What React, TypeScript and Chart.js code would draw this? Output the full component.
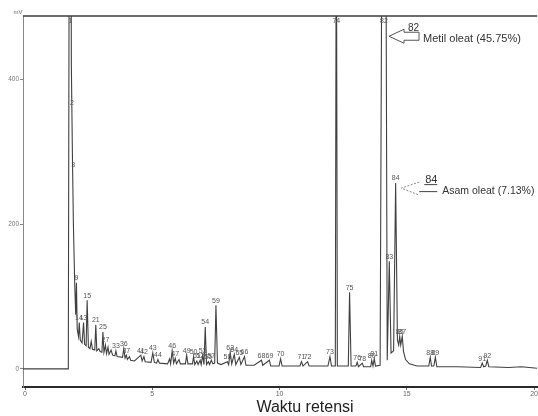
import { useEffect, useRef } from 'react';
import { Chart, registerables } from 'chart.js';

Chart.register(...registerables);

// Retention time (min) and detector signal (mV)
const times = [
  -0.08, 1.70, 1.74, 1.80, 1.82, 1.86, 1.90, 1.95, 1.99,
  2.02, 2.05, 2.10, 2.13, 2.17, 2.24, 2.30, 2.34, 2.40, 2.44,
  2.49, 2.55, 2.60, 2.65, 2.74, 2.78, 2.82, 2.90, 2.95, 3.02,
  3.06, 3.10, 3.16, 3.20, 3.26, 3.30, 3.38, 3.44, 3.53, 3.57,
  3.62, 3.83, 3.88, 3.93, 3.98, 4.02, 4.10, 4.15, 4.30, 4.55,
  4.60, 4.67, 4.72, 4.95, 5.02, 5.08, 5.17, 5.22, 5.28, 5.60,
  5.68, 5.72, 5.78, 5.84, 5.90, 5.95, 6.05, 6.10, 6.30, 6.35,
  6.40, 6.58, 6.62, 6.67, 6.75, 6.80, 6.88, 6.92, 6.98, 7.03,
  7.08, 7.13, 7.20, 7.25, 7.32, 7.38, 7.45, 7.50, 7.56, 7.70,
  7.95, 8.00, 8.06, 8.12, 8.22, 8.28, 8.42, 8.48, 8.62, 8.68,
  9.00, 9.29, 9.34, 9.60, 9.65, 9.98, 10.04, 10.10, 10.80, 10.86,
  10.92, 11.10, 11.16, 11.90, 11.98, 12.04, 12.19, 12.23, 12.27, 12.70,
  12.75, 12.81, 13.00, 13.05, 13.10, 13.25, 13.30, 13.58, 13.62, 13.67,
  13.72, 13.77, 13.95, 14.03, 14.17, 14.23, 14.31, 14.38, 14.48, 14.56,
  14.63, 14.68, 14.72, 14.76, 14.82, 14.87, 14.95, 15.10, 15.40, 15.86,
  15.92, 15.97, 16.06, 16.12, 16.18, 17.00, 17.90, 17.96, 18.02, 18.10,
  18.16, 18.22, 19.00, 19.50, 20.12,
];
const signal = [
  0, 0, 700, 700, 420, 300, 200, 120, 75,
  119, 55, 45, 64, 40, 36, 64, 34, 32, 95,
  30, 28, 38, 27, 26, 61, 25, 28, 24, 23,
  51, 23, 33, 21, 30, 20, 26, 19, 18, 25,
  17, 16, 28, 15, 19, 13, 17, 12, 11, 19,
  11, 17, 10, 9, 22, 9, 8, 13, 8, 7,
  14, 7, 25, 8, 15, 7, 13, 7, 7, 19,
  7, 7, 17, 6, 11, 6, 12, 6, 19, 6,
  58, 6, 10, 6, 12, 7, 8, 88, 8, 6,
  10, 6, 23, 7, 20, 6, 16, 6, 17, 5,
  5, 12, 5, 12, 4, 4, 14, 4, 4, 10,
  4, 10, 4, 4, 17, 4, 4, 700, 4, 4,
  106, 4, 4, 9, 3, 8, 3, 3, 12, 4,
  14, 4, 5, 700, 700, 12, 149, 22, 25, 257,
  40, 33, 45, 33, 45, 24, 13, 7, 4, 4,
  16, 4, 4, 16, 3, 3, 2, 8, 3, 4,
  12, 3, 2, 3, 1,
];

// Peak numbers printed on the chromatogram
const peakLabels = [
  '1', '2', '3', '9', '14', '13', '15', '21', '25', '27',
  '33', '36', '37', '41', '42', '43', '44', '46', '47', '49',
  '50', '51', '52', '53', '54', '55', '57', '59', '58', '63',
  '64', '65', '66', '68', '69', '70', '71', '72', '73', '74',
  '75', '76', '78', '80', '81', '82', '83', '84', '85', '87',
  '88', '89', '91', '92',
];
const peakTimes = [
  1.78, 1.84, 1.89, 2.02, 2.12, 2.30, 2.44, 2.78, 3.06, 3.16,
  3.57, 3.88, 3.98, 4.55, 4.67, 5.02, 5.22, 5.78, 5.90, 6.35,
  6.62, 6.75, 6.88, 6.98, 7.08, 7.20, 7.32, 7.50, 7.95, 8.06,
  8.22, 8.42, 8.62, 9.29, 9.60, 10.04, 10.86, 11.10, 11.98, 12.23,
  12.75, 13.05, 13.25, 13.62, 13.72, 14.10, 14.31, 14.56, 14.72, 14.82,
  15.92, 16.12, 17.96, 18.16,
];
const peakLabelValues = [
  480, 361, 275, 119, 64, 64, 95, 61, 51, 33,
  25, 28, 19, 19, 17, 22, 13, 25, 15, 19,
  17, 11, 12, 19, 58, 10, 12, 88, 10, 23,
  20, 16, 17, 12, 12, 14, 10, 10, 17, 480,
  106, 9, 8, 12, 14, 480, 149, 257, 45, 45,
  16, 16, 8, 12,
];

// Identified compounds
const noteIds = ['82', '84'];
const noteTexts = ['Metil oleat (45.75%)', 'Asam oleat (7.13%)'];
const noteTimes = [14.3, 14.78];
const noteValues = [460, 250];

const xTicks = [0, 5, 10, 15, 20];
const yTicks = [0, 200, 400];
const yUnit = 'mV';
const xTitle = 'Waktu retensi';
const xTitleAt = 11;

const overlay = {
  id: 'overlay',
  afterDatasetsDraw(chart: any) {
    const { ctx, chartArea: a, scales } = chart;
    const x = scales.x;
    const y = scales.y;
    ctx.save();
    // top frame line
    ctx.strokeStyle = '#3c3c3c';
    ctx.lineWidth = 1.5;
    ctx.beginPath();
    ctx.moveTo(a.left, a.top);
    ctx.lineTo(a.right, a.top);
    ctx.stroke();

    // unit
    ctx.fillStyle = '#666';
    ctx.font = '6px "Liberation Sans"';
    ctx.textAlign = 'center';
    ctx.textBaseline = 'bottom';
    ctx.fillText(yUnit, a.left - 5, a.top - 1);

    // peak labels
    ctx.font = '7px "Liberation Sans"';
    ctx.fillStyle = '#555';
    peakLabels.forEach((lab, i) => {
      const px = x.getPixelForValue(peakTimes[i]);
      const v = peakLabelValues[i];
      if (v >= y.max - 15) {
        ctx.textBaseline = 'top';
        ctx.fillText(lab, px, a.top + 2);
      } else {
        ctx.textBaseline = 'bottom';
        ctx.fillText(lab, px, y.getPixelForValue(v) - 1);
      }
    });

    // annotation 82: hollow arrow
    {
      const tx = x.getPixelForValue(noteTimes[0]);
      const ty = y.getPixelForValue(noteValues[0]);
      ctx.strokeStyle = '#555';
      ctx.lineWidth = 1;
      ctx.beginPath();
      ctx.moveTo(tx, ty);
      ctx.lineTo(tx + 15, ty - 7);
      ctx.lineTo(tx + 15, ty - 4);
      ctx.lineTo(tx + 30, ty - 4);
      ctx.lineTo(tx + 30, ty + 4);
      ctx.lineTo(tx + 15, ty + 4);
      ctx.lineTo(tx + 15, ty + 7);
      ctx.closePath();
      ctx.stroke();
      ctx.fillStyle = '#333';
      ctx.font = '10px "Liberation Sans"';
      ctx.textAlign = 'left';
      ctx.textBaseline = 'alphabetic';
      ctx.fillText(noteIds[0], tx + 19, ty - 5);
      ctx.font = '11px "Liberation Sans"';
      ctx.textBaseline = 'middle';
      ctx.fillText(noteTexts[0], tx + 34, ty + 3);
    }

    // annotation 84: dashed chevron
    {
      const tx = x.getPixelForValue(noteTimes[1]);
      const ty = y.getPixelForValue(noteValues[1]);
      ctx.strokeStyle = '#666';
      ctx.lineWidth = 0.8;
      ctx.setLineDash([2, 1.5]);
      ctx.beginPath();
      ctx.moveTo(tx + 18, ty - 6);
      ctx.lineTo(tx, ty);
      ctx.lineTo(tx + 18, ty + 7);
      ctx.stroke();
      ctx.setLineDash([]);
      ctx.strokeStyle = '#444';
      ctx.lineWidth = 1;
      ctx.beginPath();
      ctx.moveTo(tx + 23, ty - 3.5);
      ctx.lineTo(tx + 36, ty - 3.5);
      ctx.moveTo(tx + 18, ty + 3.5);
      ctx.lineTo(tx + 36, ty + 3.5);
      ctx.stroke();
      ctx.fillStyle = '#333';
      ctx.font = '11px "Liberation Sans"';
      ctx.textAlign = 'left';
      ctx.textBaseline = 'alphabetic';
      ctx.fillText(noteIds[1], tx + 24, ty - 5);
      ctx.font = '10.5px "Liberation Sans"';
      ctx.textBaseline = 'middle';
      ctx.fillText(noteTexts[1], tx + 41, ty + 3);
    }

    // x-axis title
    ctx.font = '16px "Liberation Sans"';
    ctx.fillStyle = '#222';
    ctx.textAlign = 'center';
    ctx.textBaseline = 'alphabetic';
    ctx.fillText(xTitle, x.getPixelForValue(xTitleAt), a.bottom + 25);
    ctx.restore();
  },
};

export default function App() {
  const ref = useRef<HTMLCanvasElement>(null);
  useEffect(() => {
    if (!ref.current) return;
    const chart = new Chart(ref.current, {
      type: 'line',
      data: {
        datasets: [
          {
            data: times.map((t, i) => ({ x: t, y: signal[i] })),
            borderColor: '#404040',
            borderWidth: 1.1,
            pointRadius: 0,
            tension: 0,
            fill: false,
          },
        ],
      },
      options: {
        animation: false,
        responsive: true,
        maintainAspectRatio: false,
        layout: { padding: { top: 16, left: 0, right: 0, bottom: 0 } },
        plugins: { legend: { display: false }, tooltip: { enabled: false } },
        scales: {
          x: {
            type: 'linear',
            min: -0.08,
            max: 20.12,
            afterBuildTicks: (s: any) => {
              s.ticks = xTicks.map((v) => ({ value: v }));
            },
            afterFit: (s: any) => {
              s.height = 29;
            },
            ticks: {
              font: { size: 7, family: '"Liberation Sans"' },
              color: '#666',
              padding: 0,
              maxRotation: 0,
              autoSkip: false,
            },
            grid: { drawOnChartArea: false, tickLength: 3, color: '#666' },
            border: { display: true, color: '#2a2a2a', width: 2 },
          },
          y: {
            type: 'linear',
            min: -25,
            max: 488,
            afterBuildTicks: (s: any) => {
              s.ticks = yTicks.map((v) => ({ value: v }));
            },
            afterFit: (s: any) => {
              s.width = 23;
            },
            ticks: {
              font: { size: 6.5, family: '"Liberation Sans"' },
              color: '#777',
              padding: 1,
            },
            grid: { drawOnChartArea: false, tickLength: 3, color: '#888' },
            border: { display: true, color: '#888', width: 1 },
          },
        },
      },
      plugins: [overlay],
    });
    return () => chart.destroy();
  }, []);
  return (
    <div style={{ position: 'fixed', left: 0, top: 0, width: 538, height: 416, background: '#fff' }}>
      <canvas ref={ref} />
    </div>
  );
}
